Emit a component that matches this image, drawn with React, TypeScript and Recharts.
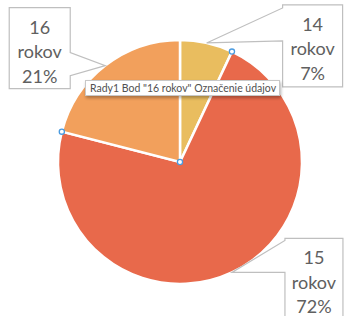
import { PieChart, Pie, Cell } from "recharts";

const AGES = ["14 rokov", "15 rokov", "16 rokov"];
const SHARES = [7, 72, 21];
const COLORS = ["#e9bd5f", "#e8694b", "#f2a05c"];

const data = AGES.map((name, i) => ({ name, value: SHARES[i] }));

// callout boxes, placed relative to the slice tip on the rim
const CALLOUTS: Record<string, { dx: number; dy: number; w: number; h: number; side: "left" | "right"; wedge: [number, number] }> = {
  "14 rokov": { dx: 76, dy: -38, w: 60, h: 82, side: "left", wedge: [3, 36] },
  "15 rokov": { dx: 53, dy: -34, w: 58, h: 90, side: "left", wedge: [2, 34] },
  "16 rokov": { dx: -96, dy: -58, w: 61, h: 81, side: "right", wedge: [45, 68] },
};

const RAD = Math.PI / 180;

function Handle({ x, y }: { x: number; y: number }) {
  return <circle cx={x} cy={y} r={2.6} fill="#fff" stroke="#4a9be0" strokeWidth={1.3} />;
}

function Callout(props: any) {
  const { cx, cy, midAngle, outerRadius, name, value, startAngle, index } = props;
  const tx = cx + outerRadius * Math.cos(-midAngle * RAD);
  const ty = cy + outerRadius * Math.sin(-midAngle * RAD);
  const c = CALLOUTS[name];
  const x0 = tx + c.dx;
  const y0 = ty + c.dy;
  const x1 = x0 + c.w;
  const y1 = y0 + c.h;
  const [wa, wb] = c.wedge;
  let d: string;
  if (c.side === "left") {
    d = `M${x0},${y0} H${x1} V${y1} H${x0} V${y0 + wb} L${tx},${ty} L${x0},${y0 + wa} Z`;
  } else {
    d = `M${x0},${y0} H${x1} V${y0 + wa} L${tx},${ty} L${x1},${y0 + wb} V${y1} H${x0} Z`;
  }
  const [num, word] = name.split(" ");
  const lines = [num, word, `${value}%`];
  const mx = (x0 + x1) / 2;
  const hx = cx + outerRadius * Math.cos(-startAngle * RAD);
  const hy = cy + outerRadius * Math.sin(-startAngle * RAD);
  return (
    <g>
      <path d={d} fill="#fff" stroke="#bfbfbf" strokeWidth={1.2} />
      {lines.map((t, i) => (
        <text
          key={i}
          x={mx}
          y={y0 + 19 + i * 24.5}
          textAnchor="middle"
          dominantBaseline="central"
          fontSize={18}
          fill="#606060"
          fontFamily="Lato, 'Open Sans', sans-serif"
        >
          {t}
        </text>
      ))}
      {index > 0 && <Handle x={hx} y={hy} />}
      {index === 2 && <Handle x={cx} y={cy} />}
    </g>
  );
}

export default function App() {
  return (
    <div style={{ position: "absolute", left: 0, top: 0, width: 348, height: 316, background: "#fff" }}>
      <PieChart width={348} height={316} margin={{ top: 0, right: 0, bottom: 0, left: 0 }}>
        <Pie
          data={data}
          dataKey="value"
          nameKey="name"
          cx={180}
          cy={162}
          outerRadius={122}
          startAngle={90}
          endAngle={-270}
          stroke="#fff"
          strokeWidth={2.5}
          label={Callout}
          labelLine={false}
          isAnimationActive={false}
        >
          {data.map((_, i) => (
            <Cell key={i} fill={COLORS[i]} />
          ))}
        </Pie>
      </PieChart>
      <div
        style={{
          position: "absolute",
          left: 85,
          top: 80,
          width: 195,
          height: 16,
          background: "#fff",
          border: "1px solid #c8c8c8",
          boxShadow: "1px 2px 3px rgba(0,0,0,0.3)",
          fontFamily: "Lato, 'Open Sans', sans-serif",
          fontSize: 10.5,
          lineHeight: "14px",
          color: "#505050",
          whiteSpace: "nowrap",
          paddingLeft: 4,
          boxSizing: "border-box",
        }}
      >
        Rady1 Bod "16 rokov" Označenie údajov
      </div>
    </div>
  );
}
